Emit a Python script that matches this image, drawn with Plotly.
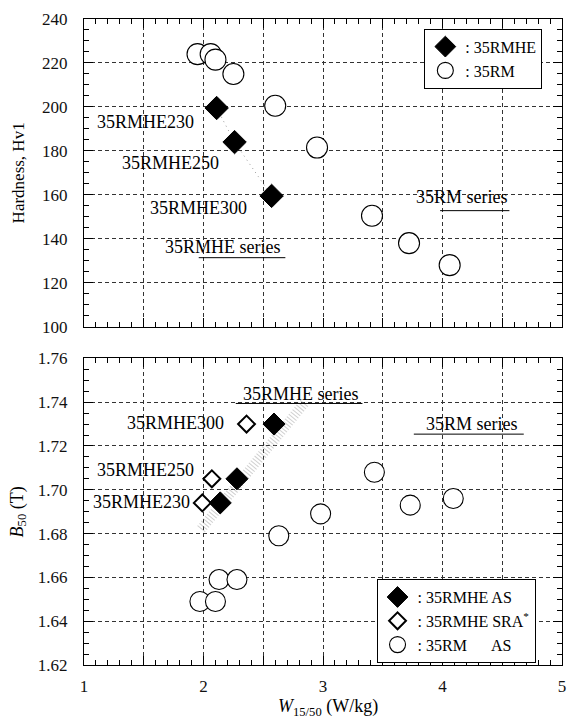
import plotly.graph_objects as go

# ---------------- data ----------------
# Top panel: hardness vs iron loss
rm_w_top = [1.95, 2.06, 2.10, 2.25, 2.60, 2.95, 3.41, 3.72, 4.06]
rm_hv = [224, 224, 221.5, 215, 200.5, 181.5, 150.5, 138, 128]
rmhe_w_top = [2.11, 2.26, 2.57]
rmhe_hv = [199.5, 184, 159.5]

# Bottom panel: B50 vs iron loss
rmhe_as_w = [2.14, 2.28, 2.59]
rmhe_as_b50 = [1.694, 1.705, 1.730]
rmhe_sra_w = [1.99, 2.07, 2.36]
rmhe_sra_b50 = [1.694, 1.705, 1.730]
rm_as_w = [1.97, 2.10, 2.13, 2.28, 2.63, 2.98, 3.43, 3.73, 4.09]
rm_as_b50 = [1.649, 1.649, 1.659, 1.659, 1.679, 1.689, 1.708, 1.693, 1.696]

# trend band of 35RMHE series (bottom panel)
band_w = [1.98, 2.85]
band_b50 = [1.682, 1.740]

x_ticks = [1, 1.5, 2, 2.5, 3, 3.5, 4, 4.5, 5]
x_ticktext = ["1", " ", "2", " ", "3", " ", "4", " ", "5"]

FONT = "'Liberation Serif', 'Times New Roman', 'DejaVu Serif', serif"

fig = go.Figure()

# ---- top panel ----
fig.add_trace(go.Scatter(x=rmhe_w_top, y=rmhe_hv, mode="lines", xaxis="x", yaxis="y",
                         line=dict(color="#999", width=1, dash="1px,4px"),
                         showlegend=False, hoverinfo="skip"))
fig.add_trace(go.Scatter(x=rm_w_top, y=rm_hv, mode="markers", xaxis="x", yaxis="y",
                         name=": 35RM", legend="legend",
                         marker=dict(symbol="circle", size=21, color="white",
                                     line=dict(color="black", width=1.1))))
fig.add_trace(go.Scatter(x=rmhe_w_top, y=rmhe_hv, mode="markers", xaxis="x", yaxis="y",
                         name=": 35RMHE", legend="legend",
                         marker=dict(symbol="diamond", size=18, color="black",
                                     line=dict(color="black", width=1))))

# ---- bottom panel ----
fig.add_trace(go.Scatter(x=band_w, y=band_b50, mode="lines", xaxis="x2", yaxis="y2",
                         line=dict(color="rgba(150,150,150,0.45)", width=10, dash="1px,2px"),
                         showlegend=False, hoverinfo="skip"))
fig.add_trace(go.Scatter(x=rm_as_w, y=rm_as_b50, mode="markers", xaxis="x2", yaxis="y2",
                         name=": 35RM\u00a0\u00a0\u00a0\u00a0\u00a0\u00a0AS", legend="legend2",
                         marker=dict(symbol="circle", size=20, color="white",
                                     line=dict(color="black", width=1.1))))
fig.add_trace(go.Scatter(x=rmhe_sra_w, y=rmhe_sra_b50, mode="markers", xaxis="x2", yaxis="y2",
                         name=": 35RMHE SRA<sup>*</sup>", legend="legend2",
                         marker=dict(symbol="diamond", size=13, color="white",
                                     line=dict(color="black", width=2))))
fig.add_trace(go.Scatter(x=rmhe_as_w, y=rmhe_as_b50, mode="markers", xaxis="x2", yaxis="y2",
                         name=": 35RMHE AS", legend="legend2",
                         marker=dict(symbol="diamond", size=17, color="black",
                                     line=dict(color="black", width=1))))

grid = dict(showgrid=True, gridcolor="#333", gridwidth=0.9, griddash="4px,3px",
            showline=True, linecolor="black", linewidth=1.3, mirror="ticks",
            ticks="inside", tickcolor="black", zeroline=False,
            tickfont=dict(family=FONT, size=17, color="#111"))

xcommon = dict(grid, range=[1, 5], tickmode="array", tickvals=x_ticks, ticktext=x_ticktext,
               ticklen=9, minor=dict(dtick=0.1, tick0=1, ticks="inside", ticklen=5,
                                     tickcolor="black", showgrid=False))

fig.update_layout(
    width=576, height=718,
    margin=dict(l=84, r=10, t=12, b=53),
    paper_bgcolor="white", plot_bgcolor="white",
    font=dict(family=FONT, size=17, color="black"),
    xaxis=dict(xcommon, domain=[0, 1], anchor="y", showticklabels=False),
    xaxis2=dict(xcommon, domain=[0, 1], anchor="y2", matches="x", ticklabelstandoff=5),
    yaxis=dict(grid, domain=[0.5237, 1], anchor="x", range=[100, 240], dtick=20, tick0=100,
               ticklen=9, ticklabelstandoff=12,
               minor=dict(dtick=5, ticks="inside", ticklen=5, tickcolor="black", showgrid=False)),
    yaxis2=dict(grid, domain=[0, 0.4747], anchor="x2", range=[1.62, 1.76], dtick=0.02, tick0=1.62,
                tickformat=".2f", ticklen=9, ticklabelstandoff=12,
                minor=dict(dtick=0.005, ticks="inside", ticklen=5, tickcolor="black", showgrid=False)),
    legend=dict(x=0.712, y=0.985, xanchor="left", yanchor="top", bgcolor="white",
                bordercolor="black", borderwidth=1, traceorder="reversed",
                font=dict(family=FONT, size=16, color="black"), tracegroupgap=0),
    legend2=dict(x=0.612, y=0.133, xanchor="left", yanchor="top", bgcolor="white",
                 bordercolor="black", borderwidth=1, traceorder="reversed",
                 font=dict(family=FONT, size=16, color="black"), tracegroupgap=0),
    showlegend=True,
)

ann = []
def add(text, x, y, xref, yref, xanchor="center", size=18):
    ann.append(dict(text=text, x=x, y=y, xref=xref, yref=yref, xanchor=xanchor,
                    yanchor="middle", showarrow=False, font=dict(family=FONT, size=size, color="black")))

# top panel labels
add("35RMHE230", 1.94, 193.0, "x", "y", "right")
add("35RMHE250", 2.145, 174.5, "x", "y", "right")
add("35RMHE300", 2.38, 154.2, "x", "y", "right")
add("35RMHE series", 2.166, 136.3, "x", "y")
add("35RM series", 4.16, 158.8, "x", "y")
# bottom panel labels
add("35RMHE300", 2.19, 1.7305, "x2", "y2", "right")
add("35RMHE250", 1.94, 1.709, "x2", "y2", "right")
add("35RMHE230", 1.905, 1.6945, "x2", "y2", "right")
add("35RMHE series", 2.82, 1.7436, "x2", "y2")
add("35RM series", 4.25, 1.7302, "x2", "y2")
# axis titles
ann.append(dict(text="Hardness, Hv1", x=-0.137, y=0.7618, xref="paper", yref="paper",
                textangle=-90, showarrow=False, xanchor="center", yanchor="middle",
                font=dict(family=FONT, size=17, color="black")))
ann.append(dict(text="<i>B</i><sub>50</sub> (T)", x=-0.137, y=0.237, xref="paper", yref="paper",
                textangle=-90, showarrow=False, xanchor="center", yanchor="middle",
                font=dict(family=FONT, size=18, color="black")))
ann.append(dict(text="<i>W</i><sub>15/50</sub> (W/kg)", x=0.51, y=-0.066, xref="paper", yref="paper",
                showarrow=False, xanchor="center", yanchor="middle",
                font=dict(family=FONT, size=18, color="black")))
fig.update_layout(annotations=ann)

# underlines
shapes = [
    dict(type="line", xref="x", yref="y", x0=1.96, x1=2.685, y0=131.4, y1=131.4,
         line=dict(color="black", width=1)),
    dict(type="line", xref="x", yref="y", x0=3.98, x1=4.56, y0=152.8, y1=152.8,
         line=dict(color="black", width=1)),
    dict(type="line", xref="x2", yref="y2", x0=2.27, x1=3.33, y0=1.7394, y1=1.7394,
         line=dict(color="black", width=1)),
    dict(type="line", xref="x2", yref="y2", x0=3.76, x1=4.68, y0=1.7254, y1=1.7254,
         line=dict(color="black", width=1)),
]
fig.update_layout(shapes=shapes)

fig.write_html("out.html")
